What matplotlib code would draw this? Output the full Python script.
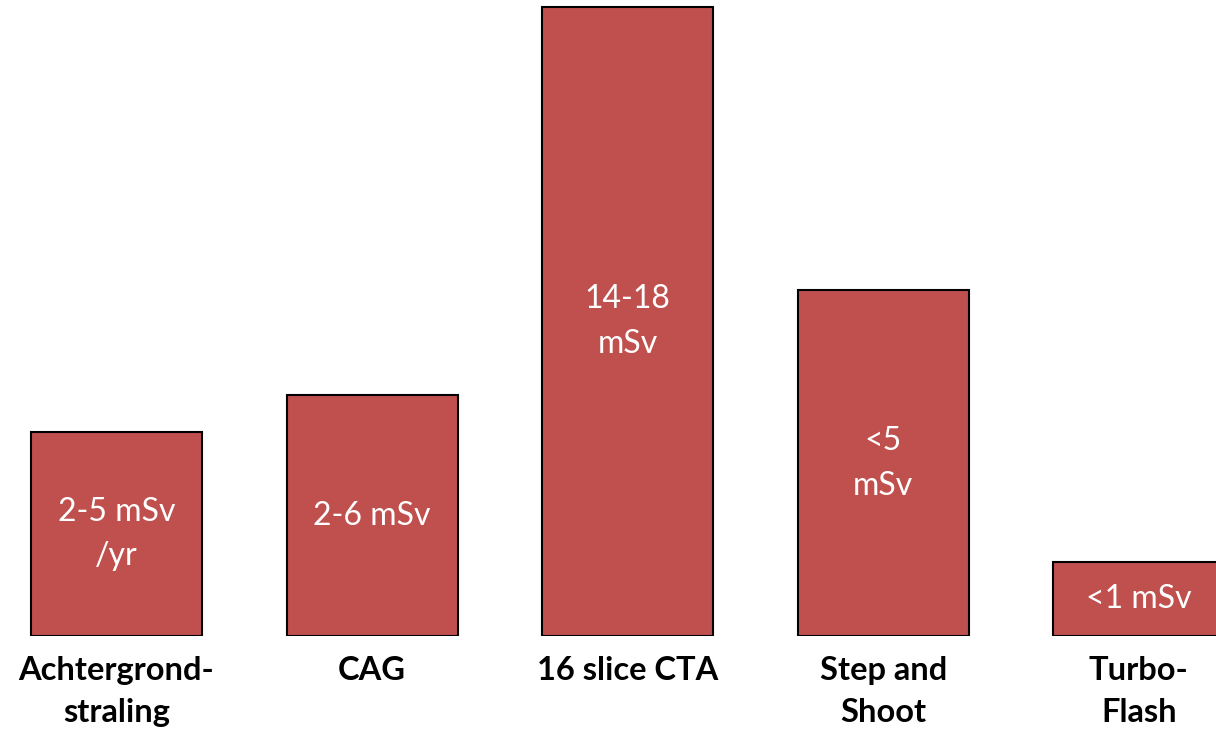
import matplotlib.pyplot as plt

categories = ['Achtergrond-\nstraling', 'CAG', '16 slice CTA', 'Step and\nShoot', 'Turbo-\nFlash']
doses = ['2-5 mSv\n/yr', '2-6 mSv', '14-18\nmSv', '<5\nmSv', '<1 mSv']
heights = [3.25, 3.84, 10.0, 5.5, 1.18]

plt.rcParams['font.family'] = ['Lato', 'DejaVu Sans']

fig = plt.figure(figsize=(12.16, 7.32), dpi=100)
ax = fig.add_axes([0, 0.1305, 1, 0.8695])

x = list(range(len(categories)))
bars = ax.bar(x, heights, width=0.669, color='#C0504D', edgecolor='black', linewidth=1.5)

for b, txt in zip(bars, doses):
    ax.text(b.get_x() + b.get_width() / 2, b.get_height() / 2, txt,
            ha='center', va='center', color='white', fontsize=23, linespacing=1.6)

ax.set_xlim(-0.4554, 4.302)
ax.set_ylim(0, 10.11)
ax.set_xticks(x)
ax.set_xticklabels(categories, fontsize=23.5, fontweight='bold', linespacing=1.55)
ax.tick_params(axis='x', length=0, pad=14)
ax.set_yticks([])
for s in ax.spines.values():
    s.set_visible(False)

fig.savefig('out.png', dpi=100)
